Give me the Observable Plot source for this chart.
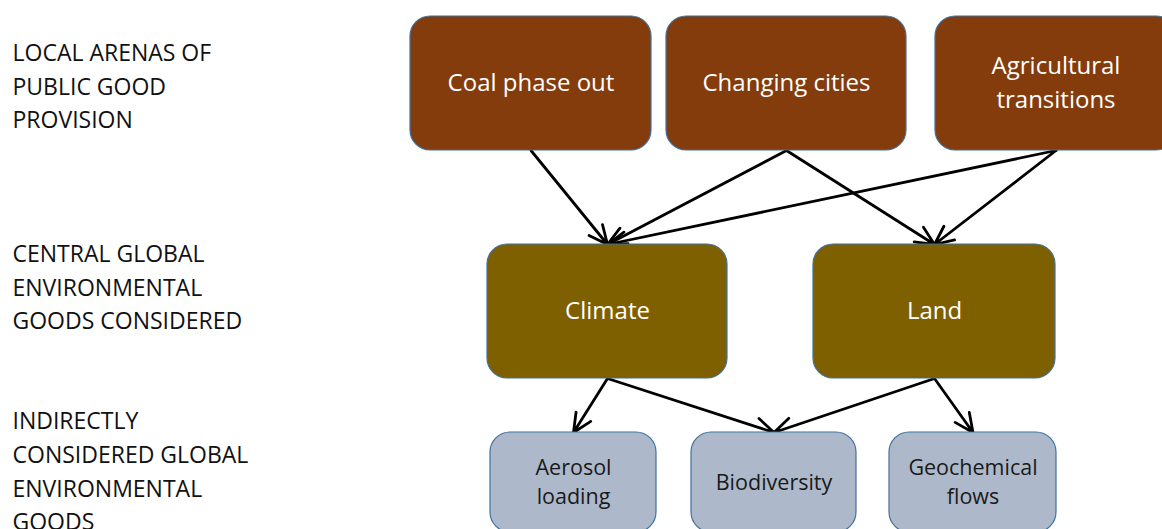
<!DOCTYPE html>
<html>
<head>
<meta charset="utf-8">
<script src="https://cdn.jsdelivr.net/npm/d3@7"></script>
<script src="https://cdn.jsdelivr.net/npm/@observablehq/plot@0.6"></script>
<style>
  html, body { margin: 0; padding: 0; background: #fff; }
  #chart { width: 1162px; height: 529px; overflow: hidden; }
</style>
</head>
<body>
<div id="chart"></div>
<script>
// ---- data ----
const nodeLabels = ["Coal phase out", "Changing cities", "Agricultural\ntransitions",
                    "Climate", "Land",
                    "Aerosol\nloading", "Biodiversity", "Geochemical\nflows"];
const nodeLeft  = [410, 666, 935, 487, 813, 490, 691, 889];
const nodeRight = [651, 906, 1176, 727, 1055, 656, 856, 1056];
const nodeTier  = [0, 0, 0, 1, 1, 2, 2, 2];
const tierTop    = [16, 244, 432];
const tierBottom = [150, 378, 532];

const edgeFrom = [0, 1, 1, 2, 2, 3, 3, 4, 4];
const edgeTo   = [3, 3, 4, 3, 4, 5, 6, 6, 7];

const tierLabels = [
  "LOCAL ARENAS OF\nPUBLIC GOOD\nPROVISION",
  "CENTRAL GLOBAL\nENVIRONMENTAL\nGOODS CONSIDERED",
  "INDIRECTLY\nCONSIDERED GLOBAL\nENVIRONMENTAL\nGOODS"
];
const tierLabelMid = [86.5, 287.5, 471.5];

// ---- styles ----
const tierFill = ["#843C0C", "#7F6000", "#ADB9CA"];
const tierInk  = ["#ffffff", "#ffffff", "#1a1a1a"];
const tierFont = [24, 24, 21.5];
const tierLine = [1.4, 1.4, 1.32];
const tierDy   = [-3, -3, -2];

// ---- derived tables ----
const nodes = nodeLabels.map((label, i) => ({
  label,
  tier: nodeTier[i],
  x1: nodeLeft[i], x2: nodeRight[i],
  y1: tierTop[nodeTier[i]], y2: tierBottom[nodeTier[i]],
  cx: (nodeLeft[i] + nodeRight[i]) / 2,
  cy: (tierTop[nodeTier[i]] + tierBottom[nodeTier[i]]) / 2
}));
const edges = edgeFrom.map((f, i) => ({
  x1: nodes[f].cx, y1: nodes[f].y2,
  x2: nodes[edgeTo[i]].cx, y2: nodes[edgeTo[i]].y1
}));
const labels = tierLabels.map((t, i) => ({ text: t, y: tierLabelMid[i] }));

const marks = [
  Plot.arrow(edges, {
    x1: "x1", y1: "y1", x2: "x2", y2: "y2",
    stroke: "#000", strokeWidth: 2.8, headLength: 11, headAngle: 50,
    insetStart: 0, insetEnd: 0, bend: 0
  }),
  Plot.rect(nodes, {
    x1: "x1", x2: "x2", y1: "y1", y2: "y2",
    fill: d => tierFill[d.tier], stroke: "#41719C", strokeWidth: 1.2,
    rx: 20
  }),
  Plot.text(labels, {
    x: 12, y: "y", text: "text", textAnchor: "start", dy: -3,
    fontSize: 23, lineHeight: 1.46, fill: "#111"
  })
];
for (let t = 0; t < 3; t++) {
  marks.push(Plot.text(nodes.filter(d => d.tier === t), {
    x: "cx", y: "cy", text: "label", dy: tierDy[t],
    fill: tierInk[t], fontSize: tierFont[t], lineHeight: tierLine[t]
  }));
}

const chart = Plot.plot({
  width: 1162, height: 529,
  margin: 0,
  x: { domain: [0, 1162], range: [0, 1162], axis: null },
  y: { domain: [0, 529], range: [0, 529], axis: null },
  style: { fontFamily: "'Open Sans', sans-serif", background: "#fff", overflow: "hidden" },
  marks
});
document.getElementById("chart").appendChild(chart);
</script>
</body>
</html>
